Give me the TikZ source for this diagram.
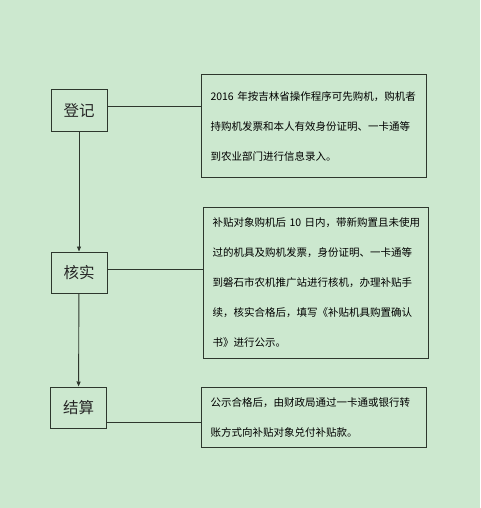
\documentclass[tikz,border=0pt]{standalone}
\usepackage{fontspec}
\newfontfamily\cjk{Noto Sans CJK SC}
\usepackage{xcolor}
\usetikzlibrary{arrows.meta, positioning}
\definecolor{bggreen}{RGB}{204,232,207}
\definecolor{linegray}{RGB}{45,55,45}

\begin{document}
\begin{tikzpicture}[
    x=1pt, y=-1pt,
    stage/.style = {draw=linegray, line width=1pt, inner sep=0pt,
                    minimum width=56pt, minimum height=41pt,
                    text=black!85, font=\cjk\fontsize{15.5}{18}\selectfont},
    note/.style  = {draw=linegray, line width=1pt, anchor=north west,
                    text width=207pt, inner xsep=9pt, inner ysep=0pt,
                    align=left, text=black,
                    font=\cjk\fontsize{10.5}{30}\selectfont},
    link/.style  = {draw=linegray, line width=0.9pt},
    flow/.style  = {link, -{Triangle[length=5pt, width=4pt]}},
                    ]
    \useasboundingbox[fill=bggreen] (0,0) rectangle (480,508);
    % steps on the left
    \node (s1) [stage] at (79,110.5) {登记};
    \node (s2) [stage] at (79,272.5) {核实};
    \node (s3) [stage] at (78.5,407.5) {结算};
    % notes on the right
    \node (t1) [note, minimum height=103pt] at (201,74)
        {2016~年按吉林省操作程序可先购机，购机者\\
         持购机发票和本人有效身份证明、一卡通等\\
         到农业部门进行信息录入。};
    \node (t2) [note, minimum height=151pt] at (203,207)
        {补贴对象购机后~10~日内，带新购置且未使用\\
         过的机具及购机发票，身份证明、一卡通等\\
         到磐石市农机推广站进行核机，办理补贴手\\
         续，核实合格后，填写《补贴机具购置确认\\
         书》进行公示。};
    \node (t3) [note, minimum height=60pt] at (201,387)
        {公示合格后，由财政局通过一卡通或银行转\\
         账方式向补贴对象兑付补贴款。};
    \draw[flow] (s1) -- (s2);
    \draw[flow] (s2) -- (s3);
    \draw[link] ([yshift=4pt]s1.east) -- ([yshift=4pt]s1.east -| t1.west);
    \draw[link] ([yshift=3.5pt]s2.east) -- ([yshift=3.5pt]s2.east -| t2.west);
    \draw[link] ([yshift=-14.5pt]s3.east) -- ([yshift=-14.5pt]s3.east -| t3.west);
\end{tikzpicture}
\end{document}
